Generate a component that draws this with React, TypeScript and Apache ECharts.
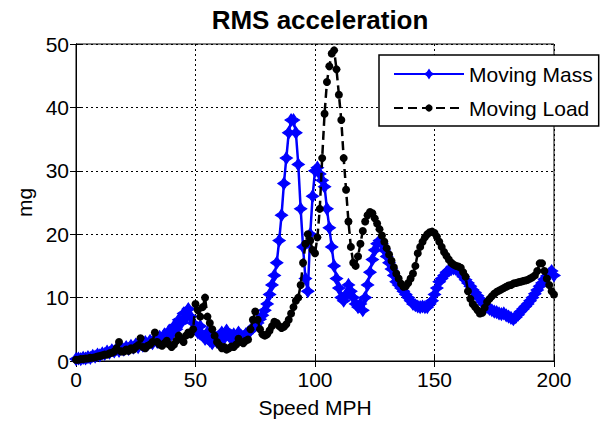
import React, { useEffect, useRef } from "react";
import * as echarts from "echarts";

const speeds: number[] = Array.from({ length: 201 }, (_, i) => i);

const movingMass: number[] = [
  0.3, 0.4, 0.3, 0.5, 0.4, 0.6, 0.5, 0.8, 0.7, 1.0,
  0.9, 1.2, 1.1, 1.5, 1.3, 1.7, 1.5, 1.9, 1.6, 2.0,
  1.8, 2.2, 1.9, 2.4, 2.1, 2.6, 2.2, 2.8, 2.4, 3.0,
  2.6, 3.2, 2.8, 3.5, 3.0, 3.8, 3.3, 4.2, 3.6, 4.8,
  4.2, 5.5, 5.0, 6.5, 6.0, 7.5, 6.8, 8.2, 7.0, 6.0,
  5.0, 4.5, 5.5, 4.0, 3.5, 4.5, 3.2, 2.8, 3.8, 3.0,
  4.0, 4.5, 3.6, 4.8, 4.0, 3.5, 4.2, 3.8, 4.5, 4.0,
  3.8, 4.2, 4.5, 4.8, 5.2, 5.6, 6.0, 6.6, 7.2, 8.0,
  9.0, 10.5, 12.0, 13.5, 15.5, 19, 23, 28, 32, 36,
  38, 38, 36, 31, 24, 18, 13, 11, 20, 26,
  30, 30.5, 29.5, 28.5, 27.5, 24, 21, 18, 15, 13,
  11.5, 10, 9.5, 10.5, 12, 11, 10, 9, 8.5, 9,
  8, 10, 12, 14, 16, 17.5, 18.5, 19, 18.5, 17.5,
  16.5, 15.5, 14.5, 13.5, 12.5, 12, 11.5, 11, 10.5, 10,
  9.5, 9, 8.8, 8.6, 8.5, 8.6, 8.5, 8.5, 9, 9.5,
  10.5, 11.5, 12.5, 13, 13.5, 14, 14.3, 14.5, 14.6, 14.5,
  14.2, 13.8, 13.3, 12.8, 12.3, 11.8, 11.2, 10.8, 10.3, 9.8,
  9.3, 8.9, 8.5, 8.2, 8, 7.8, 7.7, 7.5, 7.4, 7.5,
  7.2, 7, 6.8, 6.6, 6.9, 7.3, 7.8, 8.2, 8.6, 9,
  9.5, 10, 10.6, 11.2, 11.8, 12.3, 12.9, 13.4, 13.8, 14.2,
  13.5,
];

const movingLoad: number[] = [
  0.2, 0.2, 0.3, 0.3, 0.4, 0.4, 0.5, 0.5, 0.6, 0.7,
  0.8, 0.9, 1.0, 1.0, 1.2, 1.3, 1.5, 2.0, 3.0, 1.5,
  1.5, 1.8, 1.6, 2.0, 1.8, 2.2, 2.5, 3.6, 2.2, 2.0,
  2.4, 2.6, 3.0, 4.5, 3.0, 2.6, 2.4, 2.8, 3.2, 2.6,
  2.2, 2.6, 3.2, 4.0, 3.5, 3.0, 4.0, 4.5, 4.2, 5.0,
  9.0, 8.0, 7.0, 8.5, 10.0, 7.0, 6.0, 5.0, 4.0, 3.0,
  2.5, 2.0, 2.2, 1.8, 2.0, 2.3, 2.2, 2.6, 3.5, 3.0,
  2.8, 3.2, 3.4, 5.0, 6.5, 7.8, 6.5, 5.0, 4.2, 4.0,
  4.2, 4.8, 5.5, 6.2, 6.0, 5.5, 5.2, 5.4, 5.8, 6.5,
  7.5, 8.5, 9.5, 10.0, 12.0, 15.5, 18.5, 20.0, 19.0, 17.5,
  17.0, 19.5, 24, 32, 39, 44, 46.5, 48.5, 49, 46,
  42, 38, 32, 27, 22, 18, 15.5, 15, 16.5, 18.5,
  20.5, 22, 23, 23.5, 23.3, 22.5, 21.7, 20.8, 19.8, 18.8,
  17.8, 16.8, 15.8, 14.8, 13.8, 13, 12.2, 11.7, 11.8, 12.3,
  13, 13.8, 15, 17, 18, 18.8, 19.5, 20, 20.3, 20.4,
  20.2, 19.6, 18.8, 18, 17.2, 16.6, 16, 15.5, 15.2, 15,
  14.9, 14.7, 14, 13.3, 11, 9.8, 9, 8.5, 8, 7.5,
  7.6, 8.4, 9.3, 9.8, 10.2, 10.6, 10.9, 11.1, 11.3, 11.5,
  11.7, 11.9, 12, 12.2, 12.3, 12.4, 12.5, 12.6, 12.7, 12.8,
  13, 13.2, 13.5, 14.2, 15.4, 15.4, 14.2, 13, 12, 11,
  10.5,
];

const xTicks = { min: 0, max: 200, interval: 50 };
const yTicks = { min: 0, max: 50, interval: 10 };

const FONT = "Liberation Sans";
const STAR = "path://M0,-6 L2.4,-2.4 L6,0 L2.4,2.4 L0,6 L-2.4,2.4 L-6,0 L-2.4,-2.4 Z";

export default function App() {
  const ref = useRef<HTMLDivElement>(null);
  useEffect(() => {
    if (!ref.current) return;
    const chart = echarts.init(ref.current, undefined, { renderer: "svg" });
    const gridLine = { show: true, lineStyle: { color: "#000", type: [2, 3] as any, width: 1 } };
    chart.setOption({
      animation: false,
      backgroundColor: "#fff",
      textStyle: { fontFamily: FONT },
      title: {
        text: "RMS acceleration",
        left: 315,
        textAlign: "center",
        top: 2,
        textStyle: { fontFamily: FONT, fontSize: 26, fontWeight: "bold", color: "#000" },
      },
      legend: {
        left: 379,
        top: 55,
        orient: "vertical",
        backgroundColor: "#fff",
        borderColor: "#000",
        borderWidth: 1.5,
        borderRadius: 0,
        padding: [8, 6, 7, 14],
        itemWidth: 70,
        itemHeight: 9,
        itemGap: 12,
        textStyle: { fontFamily: FONT, fontSize: 21, color: "#000", lineHeight: 22 },
        data: ["Moving Mass", "Moving Load"],
      },
      grid: {
        left: 76,
        right: 50,
        top: 44,
        bottom: 64,
        show: true,
        borderColor: "#000",
        borderWidth: 1,
        backgroundColor: "transparent",
      },
      xAxis: [
        {
          type: "value",
          ...xTicks,
          name: "Speed MPH",
          nameLocation: "middle",
          nameGap: 36,
          nameTextStyle: { fontFamily: FONT, fontSize: 21, color: "#000" },
          axisLine: { show: true, onZero: false, lineStyle: { color: "#000", width: 1 } },
          axisTick: { show: true, inside: true, length: 6, lineStyle: { color: "#000" } },
          axisLabel: { fontFamily: FONT, fontSize: 21, color: "#000", margin: 8 },
          splitLine: gridLine,
        },
        {
          type: "value",
          ...xTicks,
          position: "top",
          axisLine: { show: true, lineStyle: { color: "#000", width: 1 } },
          axisTick: { show: true, inside: true, length: 6, lineStyle: { color: "#000" } },
          axisLabel: { show: false },
          splitLine: { show: false },
        },
      ],
      yAxis: [
        {
          type: "value",
          ...yTicks,
          name: "mg",
          nameLocation: "middle",
          nameGap: 36,
          nameRotate: 90,
          nameTextStyle: { fontFamily: FONT, fontSize: 21, color: "#000" },
          axisLine: { show: true, onZero: false, lineStyle: { color: "#000", width: 1 } },
          axisTick: { show: true, inside: true, length: 6, lineStyle: { color: "#000" } },
          axisLabel: { fontFamily: FONT, fontSize: 21, color: "#000", margin: 7 },
          splitLine: gridLine,
        },
        {
          type: "value",
          ...yTicks,
          position: "right",
          axisLine: { show: true, lineStyle: { color: "#000", width: 1 } },
          axisTick: { show: true, inside: true, length: 6, lineStyle: { color: "#000" } },
          axisLabel: { show: false },
          splitLine: { show: false },
        },
      ],
      series: [
        {
          name: "Moving Mass",
          type: "line",
          xAxisIndex: 0,
          yAxisIndex: 0,
          data: speeds.map((s, i) => [s, movingMass[i]]),
          symbol: STAR,
          symbolSize: 12,
          showAllSymbol: true,
          color: "#0000ff",
          itemStyle: { color: "#0000ff", borderColor: "#0000ff", borderWidth: 1.2 },
          lineStyle: { color: "#0000ff", width: 2.5 },
          z: 3,
        },
        {
          name: "Moving Load",
          type: "line",
          xAxisIndex: 0,
          yAxisIndex: 0,
          data: speeds.map((s, i) => [s, movingLoad[i]]),
          symbol: "circle",
          symbolSize: 8,
          showAllSymbol: true,
          color: "#000",
          itemStyle: { color: "#000" },
          lineStyle: { color: "#000", width: 2.5, type: [9, 5] as any },
          z: 4,
        },
      ],
    });
    return () => chart.dispose();
  }, []);
  return (
    <div
      ref={ref}
      style={{ position: "fixed", left: 0, top: 0, width: 604, height: 425 }}
    />
  );
}
